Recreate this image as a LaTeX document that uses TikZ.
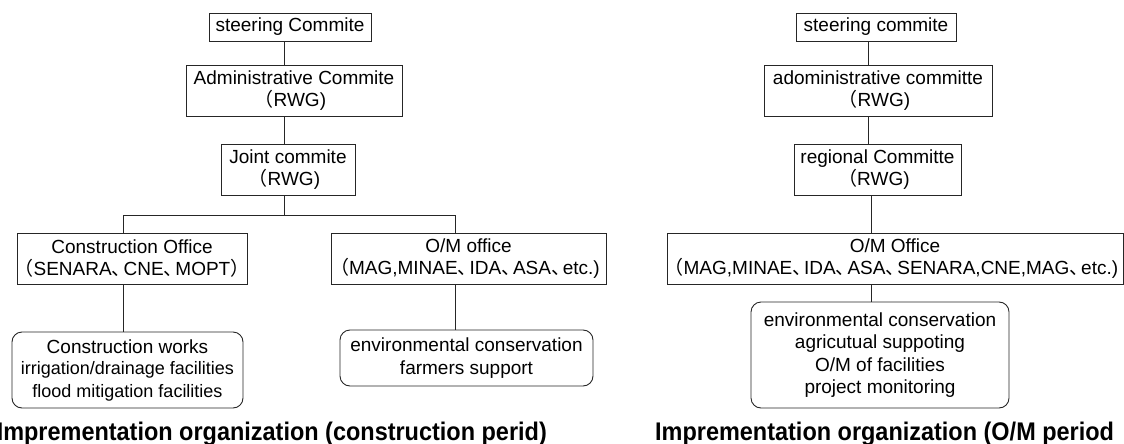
\documentclass[tikz,border=0pt]{standalone}
\usepackage{fontspec}
\setmainfont{Liberation Sans}
\newfontfamily\cjk{Noto Sans CJK JP}
\newcommand\jcomma{\makebox[0.62em][l]{\cjk 、}}
\newcommand\jlp{\makebox[0.62em][r]{\cjk （}}
\newcommand\jrp{\makebox[0.62em][l]{\cjk ）}}
\begin{document}
\begin{tikzpicture}[x=1pt,y=-1pt,
  box/.style={draw=black!85, line width=0.9pt, inner sep=0pt, align=center,
    font=\fontsize{19}{22.5}\selectfont},
  rbox/.style={box, rounded corners=10pt},
  conn/.style={draw=black!85, line width=0.9pt},
  ttl/.style={font=\fontsize{25.5}{30}\selectfont\bfseries, inner sep=0pt}]
\useasboundingbox (0,0) rectangle (1124,444);
% ---------- left ----------
\node[box, minimum width=162pt, minimum height=28pt] (ls) at (290,27) {steering Commite};
\node[box, minimum width=216pt, minimum height=51pt] (la) at (294,90.5) {Administrative Commite\\\jlp RWG)};
\node[box, minimum width=134pt, minimum height=51pt] (lj) at (288,169.5) {Joint commite\\\jlp RWG)};
\node[box, minimum width=230pt, minimum height=51pt] (lc) at (132,258.5) {Construction Office\\\jlp SENARA\jcomma CNE\jcomma MOPT\jrp};
\node[box, minimum width=275pt, minimum height=51pt] (lo) at (468.5,258.5) {O/M office\\\jlp MAG,MINAE\jcomma IDA\jcomma ASA\jcomma etc.)};
\node[rbox, minimum width=231pt, minimum height=76pt] (lw) at (127.5,370) {Construction works\\[-1pt]\fontsize{18}{21}\selectfont irrigation/drainage facilities\\\fontsize{18}{21}\selectfont flood mitigation facilities};
\node[rbox, minimum width=253pt, minimum height=56pt] (le) at (466.5,358) {environmental conservation\\farmers support};
\coordinate (lt) at (284,0);
\coordinate (lbar) at (0,215);
\coordinate (lcx) at (123,0);
\coordinate (lox) at (455,0);
\draw[conn] (ls.south -| lt) -- (la.north -| lt);
\draw[conn] (la.south -| lt) -- (lj.north -| lt);
\draw[conn] (lj.south -| lt) -- (lbar -| lt);
\draw[conn] (lc.north -| lcx) -- (lbar -| lcx) -- (lbar -| lox) -- (lo.north -| lox);
\draw[conn] (lc.south -| lcx) -- (lw.north -| lcx);
\draw[conn] (lo.south -| lox) -- (le.north -| lox);
\node[ttl, anchor=base east] (tl) at (547,440) {\scalebox{0.92}[1]{Imprementation organization (construction perid)}};
% ---------- right ----------
\node[box, minimum width=160pt, minimum height=28pt] (rs) at (876,27) {steering commite};
\node[box, minimum width=228pt, minimum height=51pt] (ra) at (878,90.5) {adoministrative committe\\\jlp RWG)};
\node[box, minimum width=167pt, minimum height=51pt] (rr) at (877.5,169.5) {regional Committe\\\jlp RWG)};
\node[box, minimum width=456pt, minimum height=51pt] (ro) at (895,258.5) {O/M Office\\\jlp MAG,MINAE\jcomma IDA\jcomma ASA\jcomma SENARA,CNE,MAG\jcomma etc.)};
\node[rbox, minimum width=258pt, minimum height=106pt] (rb) at (880,355) {environmental conservation\\agricutual suppoting\\O/M of facilities\\project monitoring};
\coordinate (rt) at (868,0);
\coordinate (rt2) at (871,0);
\draw[conn] (rs.south -| rt) -- (ra.north -| rt);
\draw[conn] (ra.south -| rt) -- (rr.north -| rt);
\draw[conn] (rr.south -| rt2) -- (ro.north -| rt2);
\draw[conn] (ro.south -| rt2) -- (rb.north -| rt2);
\node[ttl, anchor=base west] (tr) at (655,440) {\scalebox{0.92}[1]{Imprementation organization (O/M period}};
\end{tikzpicture}
\end{document}
